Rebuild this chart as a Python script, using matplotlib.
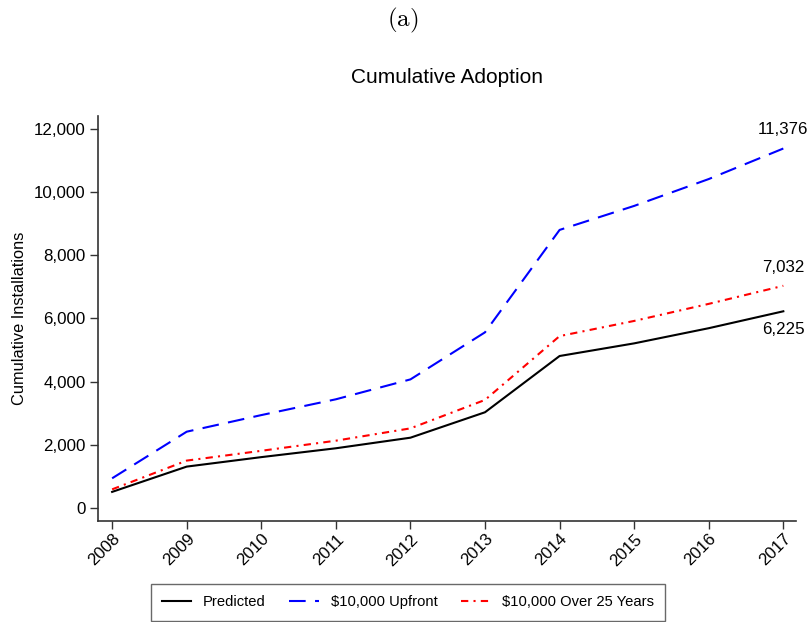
import matplotlib
matplotlib.use('Agg')
import matplotlib.pyplot as plt

plt.rcParams['font.family'] = ['Liberation Sans', 'DejaVu Sans']
plt.rcParams['mathtext.fontset'] = 'cm'

# values
years = [2008, 2009, 2010, 2011, 2012, 2013, 2014, 2015, 2016, 2017]
predicted = [510, 1310, 1610, 1890, 2225, 3030, 4810, 5210, 5690, 6225]
upfront = [940, 2415, 2940, 3440, 4070, 5560, 8800, 9560, 10410, 11376]
over25 = [590, 1500, 1810, 2130, 2520, 3420, 5440, 5920, 6460, 7032]
series_names = ['Predicted', '$10,000 Upfront', '$10,000 Over 25 Years']
yticks = [0, 2000, 4000, 6000, 8000, 10000, 12000]

fig = plt.figure(figsize=(8.11, 6.22), dpi=100)
ax = fig.add_axes([0.1208, 0.1624, 0.8607, 0.6511])

ax.plot(years, predicted, color='black', lw=1.5, label=series_names[0])
ax.plot(years, upfront, color='blue', lw=1.5, dashes=(8, 4.5), label=series_names[1])
ax.plot(years, over25, color='red', lw=1.5, dashes=(3.5, 2.5, 1, 2.5), label=series_names[2])

# end labels
ax.annotate(f'{upfront[-1]:,}', (years[-1], upfront[-1]), xytext=(0, 8),
            textcoords='offset points', ha='center', va='bottom', fontsize=12.2)
ax.annotate(f'{over25[-1]:,}', (years[-1], over25[-1]), xytext=(0, 8),
            textcoords='offset points', ha='center', va='bottom', fontsize=12.2)
ax.annotate(f'{predicted[-1]:,}', (years[-1], predicted[-1]), xytext=(0, -8),
            textcoords='offset points', ha='center', va='top', fontsize=12.2)

ax.set_xlim(2007.81, 2017.17)
ax.set_ylim(-411, 12405)
ax.set_xticks(years)
ax.set_xticklabels([str(y) for y in years], rotation=45, ha='right',
                   rotation_mode='anchor', fontsize=12.2)
ax.set_yticks(yticks)
ax.set_yticklabels([f'{v:,}' for v in yticks], fontsize=12.2)
ax.tick_params(direction='out', length=6, width=1, color='#333333', pad=3)
ax.tick_params(axis='x', pad=1.5)
for s in ['top', 'right']:
    ax.spines[s].set_visible(False)
for s in ['left', 'bottom']:
    ax.spines[s].set_color('#333333')
    ax.spines[s].set_linewidth(1.2)
ax.set_ylabel('Cumulative Installations', fontsize=11.8, labelpad=5)

fig.text(0.551, 0.875, 'Cumulative Adoption', ha='center', va='center', fontsize=15)
fig.text(0.496, 0.967, r'$\mathrm{(a)}$', ha='center', va='center', fontsize=18)

leg = fig.legend(loc='lower center', bbox_to_anchor=(0.503, 0.0), ncol=3,
                 fontsize=10.6, fancybox=False, edgecolor='#444444',
                 handlelength=2.0, handletextpad=0.8, columnspacing=1.6,
                 borderpad=0.75, borderaxespad=0.1)
leg.get_frame().set_linewidth(1.0)

fig.savefig('out.png', dpi=100)
